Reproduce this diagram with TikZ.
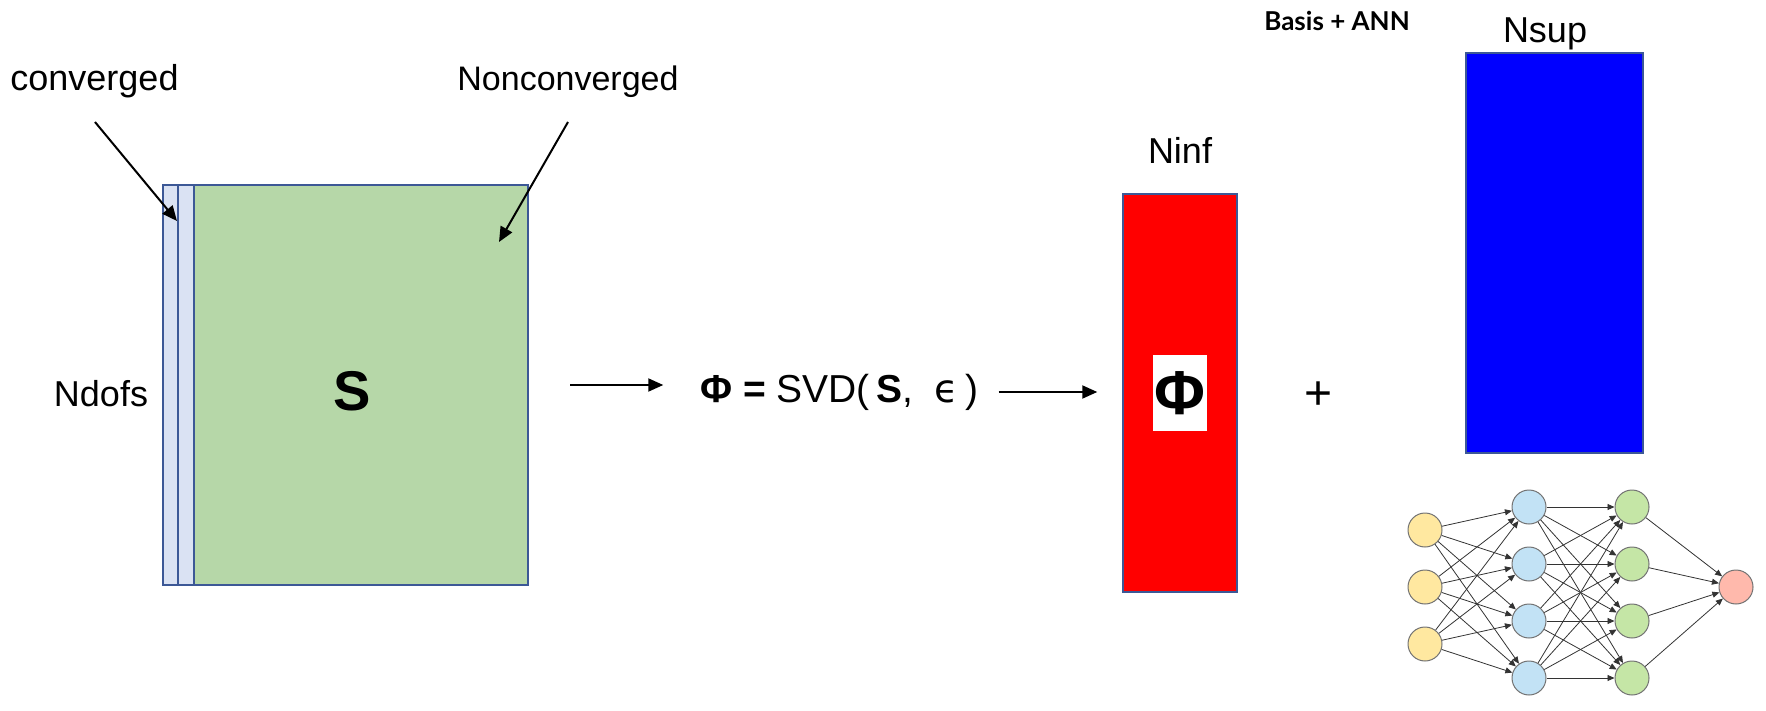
\documentclass[tikz,border=0pt]{standalone}
\usepackage{fontspec}
\setmainfont{Liberation Sans}
\newfontfamily\latofont{Lato}
\newfontfamily\dejavufont{DejaVu Sans}
\usepackage{xcolor}
\usetikzlibrary{arrows.meta,positioning}
\definecolor{matline}{RGB}{60,88,150}
\definecolor{convfill}{RGB}{218,226,243}
\definecolor{snapfill}{RGB}{182,215,168}
\definecolor{inpfill}{RGB}{255,232,160}
\definecolor{hidfill}{RGB}{194,226,245}
\definecolor{hidbfill}{RGB}{197,230,166}
\definecolor{outfill}{RGB}{255,185,172}
\tikzset{
  mat/.style={draw=matline, line width=2.5pt, inner sep=0pt},
  lbl/.style={font=\fontsize{36}{40}\selectfont, inner sep=0pt},
  flow/.style={-{Triangle[length=15pt,width=13pt]}, line width=2pt},
  neuron/.style={circle, draw=black!55, line width=1pt, minimum size=34pt, inner sep=0pt},
  syn/.style={-{Triangle[length=7pt,width=6pt]}, line width=0.8pt, draw=black!80},
}

\begin{document}
\begin{tikzpicture}[x=1pt, y=-1pt, node distance=10pt and 10pt]
  \useasboundingbox (0,0) rectangle (1766,711);
  % snapshot matrix
  \node[mat, fill=convfill, minimum width=15pt, minimum height=400pt] (conva) at (170.5,385) {};
  \node[mat, fill=convfill, minimum width=16pt, minimum height=400pt] (convb) at (186,385) {};
  \node[mat, fill=snapfill, minimum width=334pt, minimum height=400pt] (snap) at (361,385) {};
  \node[font=\bfseries\fontsize{56}{60}\selectfont] (S) at (352,391) {S};
  \node[lbl] (ndofs) at (101,394) {Ndofs};
  \node[lbl] (convlbl) at (94.5,81) {converged};
  \node[lbl, font=\fontsize{34}{38}\selectfont] (nonconvlbl) at (568,82) {Nonconverged};
  \coordinate (convtail) at (95,122);
  \coordinate (convtip) at (177,221);
  \coordinate (nonconvtail) at (568,122);
  \coordinate (nonconvtip) at (499,242);
  \draw[flow] (convtail) -- (convtip);
  \draw[flow] (nonconvtail) -- (nonconvtip);
  % svd
  \node[lbl, font=\fontsize{39}{43}\selectfont, anchor=west] (svd) at (700,392)
    {\textbf{Φ\ =}\ SVD(\,\textbf{S},\ \ {\dejavufont ϵ}\,)};
  \draw[flow] ([xshift=41pt]snap.east) -- ++(93,0);
  % reduced basis
  \node[mat, line width=1.5pt, fill=red, minimum width=114pt, minimum height=398pt] (phi) at (1180,393) {};
  \node[fill=white, minimum width=54pt, minimum height=76pt, inner sep=0pt,
        font=\bfseries\fontsize{62}{66}\selectfont] (phisym) at (phi) {Φ};
  \node[lbl, above=30pt of phi] (ninf) {Ninf};
  \draw[flow] ([xshift=20pt]svd.east) -- ([xshift=-25pt]svd.east -| phi.west);
  \node[lbl, font=\fontsize{48}{52}\selectfont] (plus) at (1318,396) {+};
  \node[mat, line width=1.5pt, fill=blue, minimum width=177pt, minimum height=400pt] (sup) at (1554.5,253) {};
  \node[lbl] (nsup) at (1545,34) {Nsup};
  \node[inner sep=0pt, font=\latofont\bfseries\fontsize{26}{30}\selectfont] (title) at (1337,21) {Basis + ANN};
  % network
  \foreach \i/\y in {1/530,2/587,3/644}
    \node[neuron, fill=inpfill] (in\i) at (1425,\y) {};
  \foreach \i/\y in {1/507,2/564,3/621,4/678} {
    \node[neuron, fill=hidfill] (ha\i) at (1529,\y) {};
    \node[neuron, fill=hidbfill] (hb\i) at (1632,\y) {};
  }
  \node[neuron, fill=outfill] (out) at (1736,587) {};
  \foreach \i in {1,2,3}
    \foreach \j in {1,...,4}
      \draw[syn] (in\i) -- (ha\j);
  \foreach \i in {1,...,4}
    \foreach \j in {1,...,4}
      \draw[syn] (ha\i) -- (hb\j);
  \foreach \i in {1,...,4}
    \draw[syn] (hb\i) -- (out);
\end{tikzpicture}
\end{document}
